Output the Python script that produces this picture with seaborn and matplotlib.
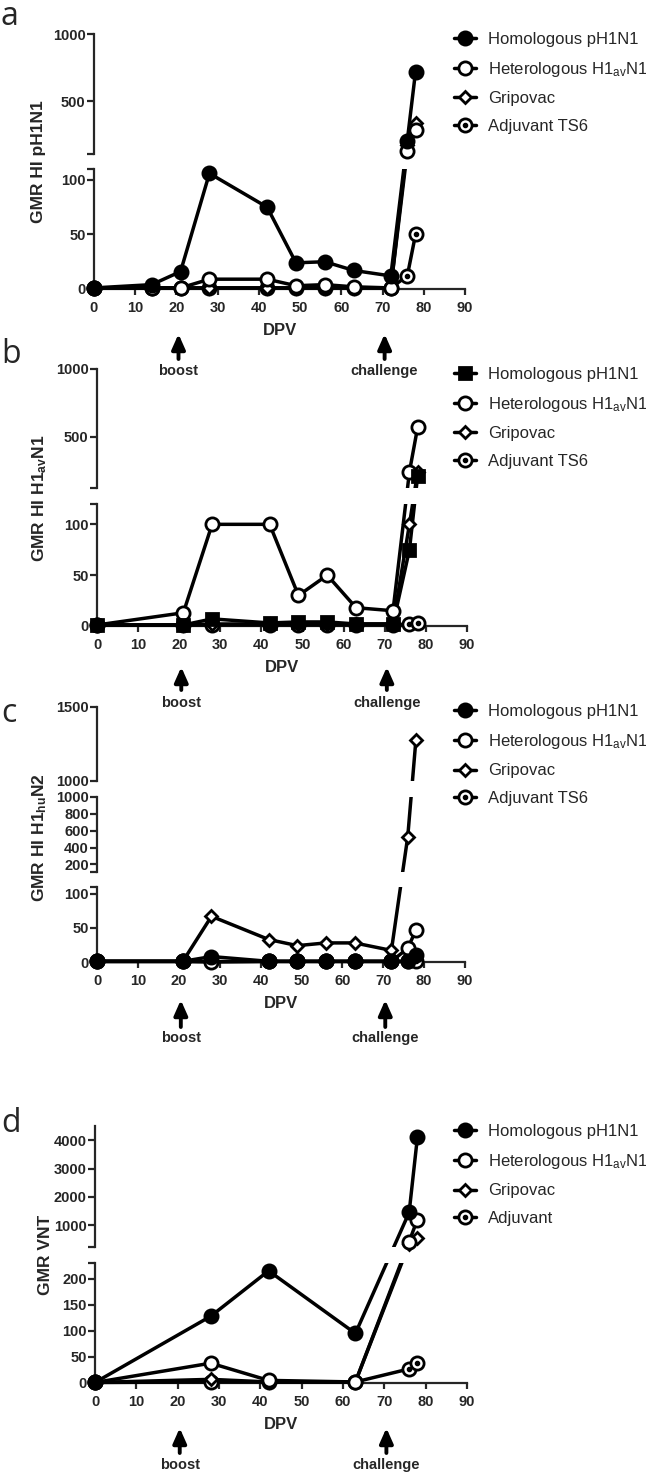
import numpy as np
import matplotlib
matplotlib.use('Agg')
import matplotlib.pyplot as plt
import matplotlib.transforms as mtransforms
from matplotlib.lines import Line2D
from matplotlib.patches import Rectangle
import seaborn as sns

# ---- values ----
dpv_a = [0, 14, 21, 28, 42, 49, 56, 63, 72, 76, 78]
a_homologous = [1, 4, 16, 106, 75, 24, 25, 17, 12, 210, 720]
a_heterologous = [1, 1, 1, 9, 9, 3, 4, 2, 1, 130, 285]
a_gripovac = [1, 1, 1, 1, 1, 1, 1, 1, 1, 180, 340]
a_adjuvant = [1, 1, 1, 1, 1, 1, 1, 1, 1, 12, 50]

dpv_b = [0, 21, 28, 42, 49, 56, 63, 72, 76, 78]
b_homologous = [1, 1, 7, 3, 4, 4, 2, 2, 75, 210]
b_heterologous = [1, 13, 100, 100, 30, 50, 18, 15, 240, 570]
b_gripovac = [1, 1, 2, 2, 2, 2, 2, 2, 100, 240]
b_adjuvant = [1, 1, 1, 1, 1, 1, 1, 1, 2, 3]

dpv_c = [0, 21, 28, 42, 49, 56, 63, 72, 76, 78]
c_homologous = [1, 1, 8, 1, 1, 1, 1, 1, 1, 10]
c_heterologous = [1, 1, 0, 1, 1, 1, 1, 1, 20, 47]
c_gripovac = [1, 1, 67, 33, 24, 28, 28, 17, 530, 1280]
c_adjuvant = [1, 1, 1, 1, 1, 1, 1, 1, 1, 1]

dpv_d = [0, 28, 42, 63, 76, 78]
d_homologous = [1, 128, 215, 95, 1450, 4100]
d_heterologous = [1, 38, 5, 2, 420, 1200]
d_gripovac = [1, 7, 2, 2, 330, 540]
d_adjuvant = [1, 2, 2, 2, 27, 38]

labels_hi = ['Homologous pH1N1', 'Heterologous H1$_{av}$N1', 'Gripovac', 'Adjuvant TS6']
labels_vnt = ['Homologous pH1N1', 'Heterologous H1$_{av}$N1', 'Gripovac', 'Adjuvant']
xticks = [0, 10, 20, 30, 40, 50, 60, 70, 80, 90]

sns.set_style('ticks')
plt.rcParams['font.family'] = ['Liberation Sans', 'DejaVu Sans']
plt.rcParams['mathtext.default'] = 'regular'

W, H = 646, 1473
fig = plt.figure(figsize=(W / 100, H / 100), dpi=100)

LW = 2.5
circ = dict(marker='o', ms=9.5)
sty_filled = dict(circ, mfc='black')
sty_open = dict(circ, mfc='white')
sty_diamond = dict(marker='D', ms=6.5, mfc='white')
sty_adj = dict(circ, mfc='white', dot=True)
sty_square = dict(marker='s', ms=8.5, mfc='black')
TICK_FS = 10.5


def fy(px):
    return 1 - px / H


def add_ax(x0, x1, ytop, ybot):
    return fig.add_axes([x0 / W, fy(ybot), (x1 - x0) / W, (ybot - ytop) / H])


def broken_scale(segs):
    # piecewise-linear value -> screen mapping with a blank gap at each break
    base = segs[0][1]
    vx, px = [], []
    for ytop, ybot, lo, hi, *_ in segs:
        if vx and lo <= vx[-1]:
            lo = vx[-1] + 1e-6
        vx += [lo, hi]
        px += [base - ybot, base - ytop]
    fwd = lambda v: np.interp(v, vx, px)
    inv = lambda p: np.interp(p, px, vx)
    return fwd, inv


def panel(letter, x0, x1, segs, x, series, styles, labels, ylabel, ylab_pos,
          letter_y, leg_top, arrow_px):
    n = len(segs)
    axes = []
    # axis segments: spines and ticks only
    for i, (ytop, ybot, lo, hi, ticks, tlabels) in enumerate(segs):
        ax = add_ax(x0, x1, ytop, ybot)
        ax.set_xlim(0, 90)
        ax.set_ylim(lo, hi)
        ax.set_yticks(ticks)
        ax.set_yticklabels(tlabels, fontweight='bold', fontsize=TICK_FS)
        ax.spines['top'].set_visible(False)
        ax.spines['right'].set_visible(False)
        for s in ('left', 'bottom'):
            ax.spines[s].set_linewidth(1.6)
        ax.tick_params(axis='y', length=5, width=1.6, pad=1)
        if i == 0:
            ax.set_xticks(xticks)
            ax.set_xticklabels([str(t) for t in xticks], fontweight='bold', fontsize=TICK_FS)
            ax.tick_params(axis='x', length=4.5, width=1.6, pad=4)
            ax.set_xlabel('DPV', fontweight='bold', fontsize=12, labelpad=6)
        else:
            ax.spines['bottom'].set_visible(False)
            ax.set_xticks([])
        ax.patch.set_alpha(0)
        axes.append(ax)

    # data canvas spanning the whole panel, with the broken y scale
    top_px, base = segs[-1][0], segs[0][1]
    hpx = base - top_px
    cv = add_ax(x0, x1, top_px, base)
    cv.set_yscale('function', functions=broken_scale(segs))
    for i, (ytop, ybot, lo, hi, *_r) in enumerate(segs):
        c0 = -0.3 if i == 0 else (base - ybot) / hpx
        c1 = 1.3 if i == n - 1 else (base - ytop) / hpx
        before = len(cv.lines)
        for vals in series:
            sns.lineplot(x=x, y=vals, ax=cv, color='black', linewidth=LW,
                         estimator=None, sort=False, legend=False)
        for ln in cv.lines[before:]:
            ln.set_clip_path(Rectangle((-0.05, c0), 1.1, c1 - c0, transform=cv.transAxes))
    # first series ends up on top, as in the original
    for k, (vals, st) in enumerate(zip(series, styles)):
        z = 10 - 2 * k
        cv.plot(x, vals, ls='none', marker=st['marker'], ms=st['ms'], mfc=st['mfc'],
                mec='black', mew=2, clip_on=False, zorder=z)
        if st.get('dot'):
            cv.plot(x, vals, ls='none', marker='o', ms=3, color='black',
                    clip_on=False, zorder=z + 0.5)
    cv.set_xlim(0, 90)
    cv.set_ylim(segs[0][2], segs[-1][3])
    cv.set_ylabel('')
    cv.axis('off')

    fig.text(ylab_pos[0] / W, fy(ylab_pos[1]), ylabel, rotation=90, ha='center',
             va='center', fontsize=12.5, fontweight='bold')
    fig.text(1 / W, fy(letter_y), letter, fontsize=23, va='baseline', ha='left',
             family=['Open Sans', 'DejaVu Sans'])

    handles = []
    for st in styles:
        h = Line2D([], [], color='black', lw=LW, marker=st['marker'], ms=st['ms'],
                   mfc=st['mfc'], mec='black', mew=2)
        if st.get('dot'):
            h = (h, Line2D([], [], ls='none', marker='o', ms=3, color='black'))
        handles.append(h)
    fig.legend(handles, labels, loc='upper left', bbox_to_anchor=(454 / W, fy(leg_top)),
               frameon=False, fontsize=12, handlelength=1.3, handletextpad=0.75,
               labelspacing=0.76, borderpad=0, borderaxespad=0)

    bottom = axes[0]
    trans = mtransforms.blended_transform_factory(bottom.transData, fig.transFigure)
    tip, tail, txt = arrow_px
    for xv, word in ((20.5, 'boost'), (70.5, 'challenge')):
        bottom.annotate('', xy=(xv, fy(tip)), xytext=(xv, fy(tail)), xycoords=trans,
                        textcoords=trans, annotation_clip=False,
                        arrowprops=dict(arrowstyle='-|>,head_width=0.4,head_length=0.9',
                                        lw=2.8, color='black', shrinkA=0, shrinkB=0))
        bottom.text(xv, fy(txt), word, transform=trans, ha='center', va='center',
                    fontsize=10.5, fontweight='bold')


panel('a', 94, 465,
      [(169, 289, 0, 110, [0, 50, 100, 110], ['0', '50', '100', '']),
       (34, 154, 110, 1000, [110, 500, 1000], ['', '500', '1000'])],
      dpv_a, [a_homologous, a_heterologous, a_gripovac, a_adjuvant],
      [sty_filled, sty_open, sty_diamond, sty_adj], labels_hi,
      'GMR HI pH1N1', (38, 162), 25, 32, (334, 359, 371))

panel('b', 97, 467,
      [(504, 626, 0, 120, [0, 50, 100, 120], ['0', '50', '100', '']),
       (369, 488, 120, 1000, [120, 500, 1000], ['', '500', '1000'])],
      dpv_b, [b_homologous, b_heterologous, b_gripovac, b_adjuvant],
      [sty_square, sty_open, sty_diamond, sty_adj], labels_hi,
      'GMR HI H1$_{av}$N1', (40, 498), 363, 367, (667, 690, 703))

panel('c', 97, 465,
      [(887, 962, 0, 110, [0, 50, 100, 110], ['0', '50', '100', '']),
       (797, 872, 110, 1000, [110, 200, 400, 600, 800, 1000],
        ['', '200', '400', '600', '800', '1000']),
       (707, 781, 1000, 1500, [1000, 1500], ['1000', '1500'])],
      dpv_c, [c_homologous, c_heterologous, c_gripovac, c_adjuvant],
      [sty_filled, sty_open, sty_diamond, sty_adj], labels_hi,
      'GMR HI H1$_{hu}$N2', (40, 838), 722, 704, (1000, 1027, 1038))

panel('d', 95, 467,
      [(1263, 1383, 0, 230, [0, 50, 100, 150, 200, 230],
        ['0', '50', '100', '150', '200', '']),
       (1126, 1247, 230, 4500, [230, 1000, 2000, 3000, 4000],
        ['', '1000', '2000', '3000', '4000'])],
      dpv_d, [d_homologous, d_heterologous, d_gripovac, d_adjuvant],
      [sty_filled, sty_open, sty_diamond, sty_adj], labels_vnt,
      'GMR VNT', (45, 1255), 1132, 1124, (1428, 1453, 1465))

fig.savefig('out.png', dpi=100)
